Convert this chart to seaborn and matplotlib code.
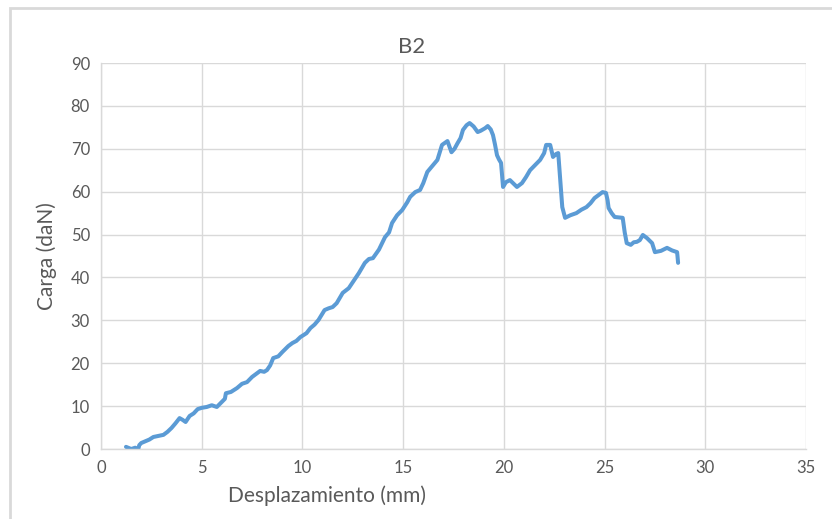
import matplotlib
matplotlib.use('Agg')
import matplotlib.pyplot as plt
import seaborn as sns
import pandas as pd
from matplotlib.patches import Rectangle

# displacement (mm) and load (daN)
desplazamiento = [1.24, 1.35, 1.5, 1.7, 1.85, 1.9, 2.0, 2.2, 2.4, 2.6, 2.8, 3.1, 3.3, 3.5, 3.7,
                  3.9, 4.05, 4.2, 4.4, 4.6, 4.8, 5.0, 5.25, 5.5, 5.75, 5.9, 6.15, 6.2, 6.45,
                  6.75, 7.0, 7.25, 7.5, 7.7, 7.9, 8.1, 8.24, 8.4, 8.55, 8.8, 9.0, 9.3, 9.5,
                  9.7, 9.9, 10.2, 10.4, 10.6, 10.8, 11.1, 11.3, 11.5, 11.7, 12.0, 12.3, 12.5,
                  12.8, 13.1, 13.3, 13.5, 13.8, 14.1, 14.3, 14.45, 14.7, 14.95, 15.2, 15.35,
                  15.6, 15.84, 16.0, 16.2, 16.5, 16.7, 16.93, 17.2, 17.3, 17.4, 17.55, 17.7,
                  17.85, 17.97, 18.15, 18.3, 18.5, 18.7, 18.85, 19.07, 19.2, 19.35, 19.46,
                  19.56, 19.66, 19.76, 19.86, 19.92, 19.96, 20.1, 20.3, 20.45, 20.65, 20.9,
                  21.1, 21.3, 21.55, 21.8, 22.0, 22.1, 22.3, 22.44, 22.6, 22.7, 22.75, 22.8,
                  22.9, 23.04, 23.3, 23.6, 23.85, 24.1, 24.3, 24.5, 24.7, 24.9, 25.07, 25.15,
                  25.2, 25.35, 25.5, 25.7, 25.9, 26.0, 26.1, 26.3, 26.45, 26.6, 26.75, 26.9,
                  27.1, 27.36, 27.5, 27.8, 28.1, 28.35, 28.6, 28.62, 28.65]
carga = [0.5, 0.3, 0.0, 0.3, 0.0, 0.9, 1.4, 1.8, 2.2, 2.8, 3.0, 3.3, 4.0, 4.9, 6.0,
         7.2, 6.8, 6.3, 7.7, 8.3, 9.3, 9.6, 9.8, 10.2, 9.8, 10.5, 11.7, 13.0, 13.3,
         14.2, 15.2, 15.6, 16.8, 17.5, 18.2, 18.0, 18.4, 19.5, 21.2, 21.6, 22.6, 24.0,
         24.7, 25.2, 26.1, 27.0, 28.2, 29.0, 30.1, 32.4, 32.8, 33.1, 34.0, 36.4, 37.5,
         38.9, 41.0, 43.4, 44.3, 44.5, 46.5, 49.4, 50.5, 52.7, 54.5, 55.7, 57.5, 58.8,
         59.9, 60.4, 62.0, 64.6, 66.3, 67.4, 70.9, 71.8, 70.5, 69.2, 70.0, 71.3, 72.5,
         74.4, 75.5, 76.0, 75.2, 73.9, 74.2, 74.8, 75.3, 74.5, 73.2, 71.0, 68.5, 67.5,
         66.7, 63.5, 61.1, 62.2, 62.7, 62.0, 61.1, 62.0, 63.4, 65.0, 66.2, 67.4, 69.0,
         70.9, 70.9, 68.1, 68.8, 69.0, 66.0, 62.7, 56.4, 53.9, 54.5, 55.0, 55.8, 56.4,
         57.3, 58.5, 59.2, 59.9, 59.7, 58.0, 56.2, 55.0, 54.1, 54.0, 53.9, 50.5, 48.0,
         47.6, 48.2, 48.3, 48.7, 49.9, 49.2, 48.0, 45.9, 46.2, 46.9, 46.3, 45.9, 45.0,
         43.4]

df = pd.DataFrame({'Desplazamiento': desplazamiento, 'Carga': carga})

sns.set_style('white')
plt.rcParams['font.family'] = ['Lato', 'DejaVu Sans']

fig = plt.figure(figsize=(8.32, 5.19), dpi=100)
ax = fig.add_axes([101 / 832, 70 / 519, 705 / 832, 386 / 519])

sns.lineplot(data=df, x='Desplazamiento', y='Carga', ax=ax, color='#5B9BD5',
             linewidth=2.9, sort=False, estimator=None)

ax.set_xlim(0, 35)
ax.set_ylim(0, 90)
ax.set_xticks(range(0, 36, 5))
ax.set_yticks(range(0, 91, 10))
ax.grid(True, color='#D9D9D9', linewidth=1)
ax.set_axisbelow(True)
for side in ['top', 'right']:
    ax.spines[side].set_visible(False)
for side in ['left', 'bottom']:
    ax.spines[side].set_color('#D9D9D9')
    ax.spines[side].set_linewidth(1)
ax.tick_params(length=0, labelsize=12, labelcolor='#595959', pad=8)

ax.set_title('B2', fontsize=16, color='#595959', x=0.44, pad=7)
ax.set_xlabel('Desplazamiento (mm)', fontsize=15, color='#595959')
ax.xaxis.set_label_coords(0.32, -0.095)
ax.set_ylabel('Carga (daN)', fontsize=15, color='#595959', labelpad=10)

# light frame around the chart area
fig.patches.append(Rectangle((9.5 / 832, -0.01), 1.0, 511 / 519 + 0.01, transform=fig.transFigure,
                             fill=False, edgecolor='#D9D9D9', linewidth=2))

fig.savefig('out.png', dpi=100)
